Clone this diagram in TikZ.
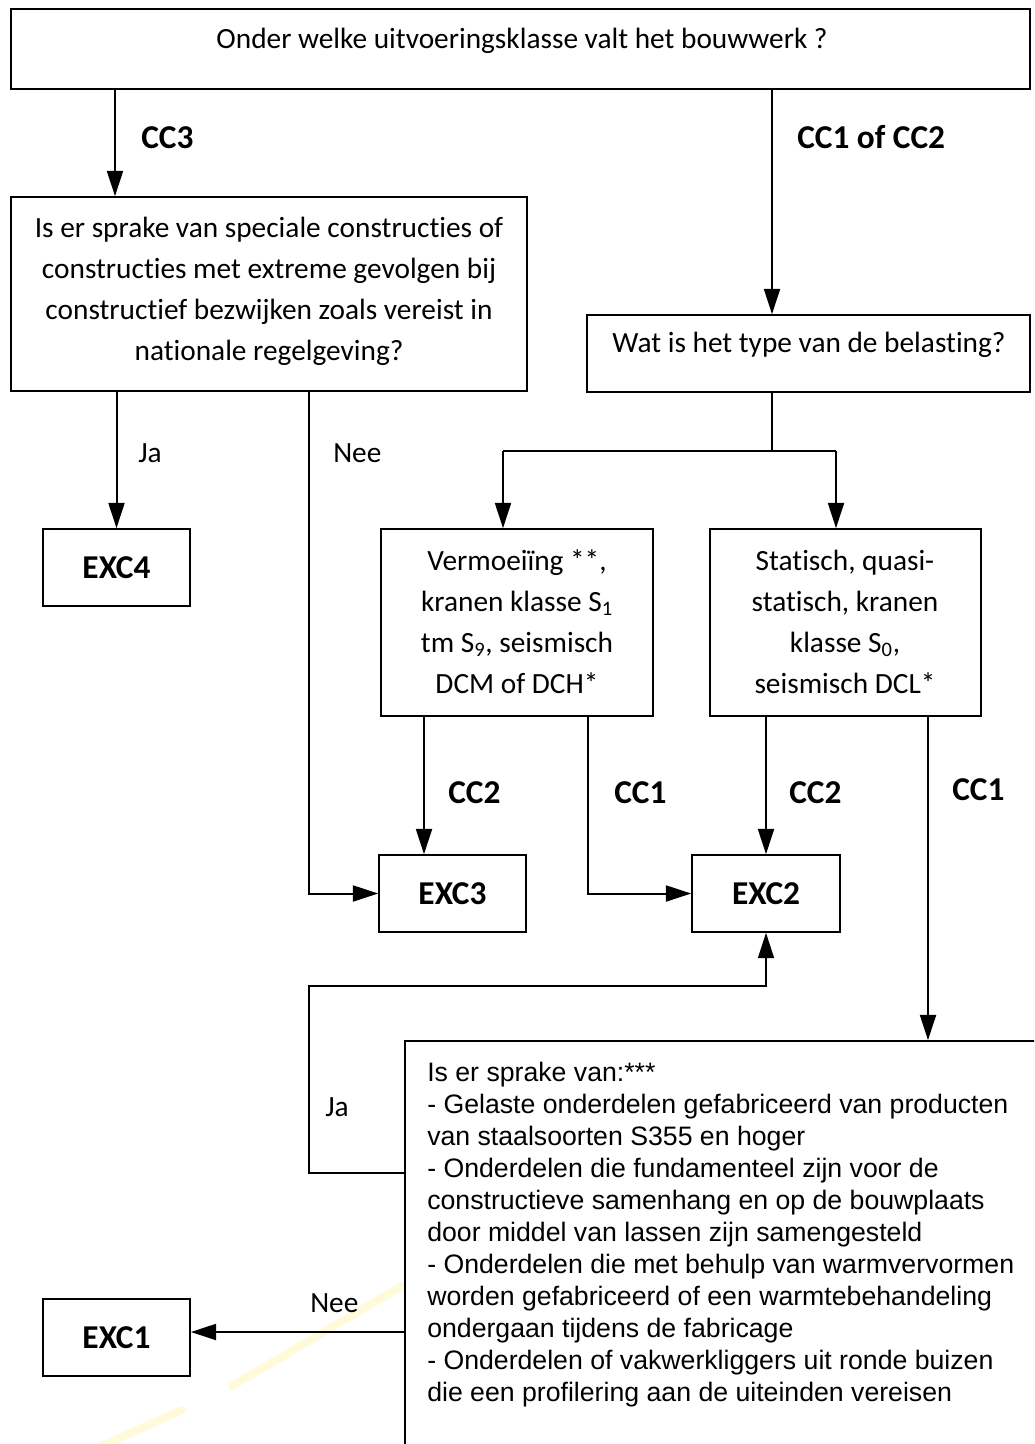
\documentclass[tikz,border=0pt]{standalone}
\usepackage{fontspec}
\setmainfont{Carlito}[Ligatures=CommonOff]
\newfontfamily\arialfont{Liberation Sans}
\usetikzlibrary{arrows.meta,calc}
\begin{document}
\begin{tikzpicture}[x=0.75pt,y=-0.75pt,
  box/.style={draw,line width=1.2pt,inner sep=0pt},
  txt/.style={font=\fontsize{22pt}{30.75pt}\selectfont,align=center,inner sep=0pt},
  lbl/.style={font=\fontsize{25pt}{30pt}\selectfont\bfseries,inner sep=0pt,anchor=west},
  yn/.style={font=\fontsize{22pt}{30pt}\selectfont,inner sep=0pt,anchor=west},
  exc/.style={box,font=\fontsize{25pt}{30pt}\selectfont\bfseries},
  arr/.style={line width=1.5pt,-{Triangle[length=19pt,width=12pt]}},
  ln/.style={line width=1.5pt},
  thinln/.style={line width=1.1pt},
  streak/.style={line width=6pt,color={rgb,255:red,255;green,236;blue,110},opacity=0.25,line cap=round},
]
\useasboundingbox (0,0) rectangle (1034,1444);
\clip (0,0) rectangle (1034,1444);
\fill[white] (0,0) rectangle (1034,1444);

% faint yellow streak
\draw[streak] (402,1286) -- (232,1386);
\draw[streak] (182,1410) -- (88,1452);

% boxes
\node[box,minimum width=764.25pt,minimum height=60pt] (top) at (520.5,49) {};
\node[txt] (toptxt) at (522,41) {Onder welke uitvoeringsklasse valt het bouwwerk ?};

\node[box,minimum width=387pt,minimum height=145.5pt] (lbox) at (269,294) {};
\node[txt] (lboxtxt) at (269,291) {Is er sprake van speciale constructies of\\constructies met extreme gevolgen bij\\constructief bezwijken zoals vereist in\\nationale regelgeving?};

\node[box,minimum width=332.25pt,minimum height=57.75pt] (wat) at (808.5,353.5) {};
\node[txt] (wattxt) at (809,345) {Wat is het type van de belasting?};

\node[box,minimum width=204pt,minimum height=140.25pt] (vbox) at (517,622.5) {};
\node[txt] (vboxtxt) at (517,622) {Vermoeiïng **,\\kranen klasse S\textsubscript{1}\\tm S\textsubscript{9}, seismisch\\DCM of DCH*};

\node[box,minimum width=203.25pt,minimum height=140.25pt] (sbox) at (845.5,622.5) {};
\node[txt] (sboxtxt) at (845,622) {Statisch, quasi-\\statisch, kranen\\klasse S\textsubscript{0},\\seismisch DCL*};

\node[exc,minimum width=110.25pt,minimum height=57.75pt] (exc4) at (116.5,567.5) {EXC4};
\node[exc,minimum width=110.25pt,minimum height=57.75pt] (exc3) at (452.5,893.5) {EXC3};
\node[exc,minimum width=111pt,minimum height=57.75pt] (exc2) at (766,893.5) {EXC2};
\node[exc,minimum width=110.25pt,minimum height=57.75pt] (exc1) at (116.5,1337.5) {EXC1};

\node[box,minimum width=521.25pt,minimum height=344.25pt] (bbox) at (752.5,1270.5) {};
\node[inner sep=0pt,anchor=north west,align=left,font=\arialfont\fontsize{20pt}{24pt}\selectfont] (bboxtxt) at (427,1062) {Is er sprake van:***\\- Gelaste onderdelen gefabriceerd van producten\\van staalsoorten S355 en hoger\\- Onderdelen die fundamenteel zijn voor de\\constructieve samenhang en op de bouwplaats\\door middel van lassen zijn samengesteld\\- Onderdelen die met behulp van warmvervormen\\worden gefabriceerd of een warmtebehandeling\\ondergaan tijdens de fabricage\\- Onderdelen of vakwerkliggers uit ronde buizen\\die een profilering aan de uiteinden vereisen};

% lane coordinates
\coordinate (xA) at (115,0);
\coordinate (xB) at (772,0);
\coordinate (split) at (772,451);
\coordinate (sl) at (503,451);
\coordinate (sr) at (836,451);
\coordinate (xC) at (424,0);
\coordinate (xD) at (588,0);
\coordinate (xE) at (928,0);
\coordinate (xF) at (309,0);
\coordinate (jl) at (309,986);
\coordinate (jaY) at (0,1173);
\coordinate (neeY) at (0,1332);

% connectors
\draw[arr] (top.south -| xA) -- (lbox.north -| xA);
\draw[arr] (top.south -| xB) -- (wat.north -| xB);
\draw[arr] (lbox.south -| exc4.north) -- (exc4.north);
\draw[arr] (lbox.south -| xF) |- (exc3.west);
\draw[thinln] (wat.south -| xB) -- (split);
\draw[thinln] (sl) -- (sr);
\draw[arr] (sl) -- (vbox.north -| sl);
\draw[arr] (sr) -- (sbox.north -| sr);
\draw[arr] (vbox.south -| xC) -- (exc3.north -| xC);
\draw[arr] (vbox.south -| xD) |- (exc2.west);
\draw[arr] (sbox.south -| exc2.north) -- (exc2.north);
\draw[arr] (sbox.south -| xE) -- (bbox.north -| xE);
\draw[thinln,-{Triangle[length=19pt,width=12pt]}] (bbox.west |- jaY) -| (jl) -| (exc2.south);
\draw[arr] (bbox.west |- neeY) -- (exc1.east |- neeY);

% labels
\node[lbl] (lcc3) at (141,138) {CC3};
\node[lbl] (lcc12) at (797,137) {CC1 of CC2};
\node[yn] (lja1) at (138,453) {Ja};
\node[yn] (lnee1) at (333,453) {Nee};
\node[lbl] (lcc2a) at (448,793) {CC2};
\node[lbl] (lcc1a) at (614,793) {CC1};
\node[lbl] (lcc2b) at (789,793) {CC2};
\node[lbl] (lcc1b) at (952,790) {CC1};
\node[yn] (lja2) at (325,1107) {Ja};
\node[yn] (lnee2) at (310,1303) {Nee};
\end{tikzpicture}
\end{document}
